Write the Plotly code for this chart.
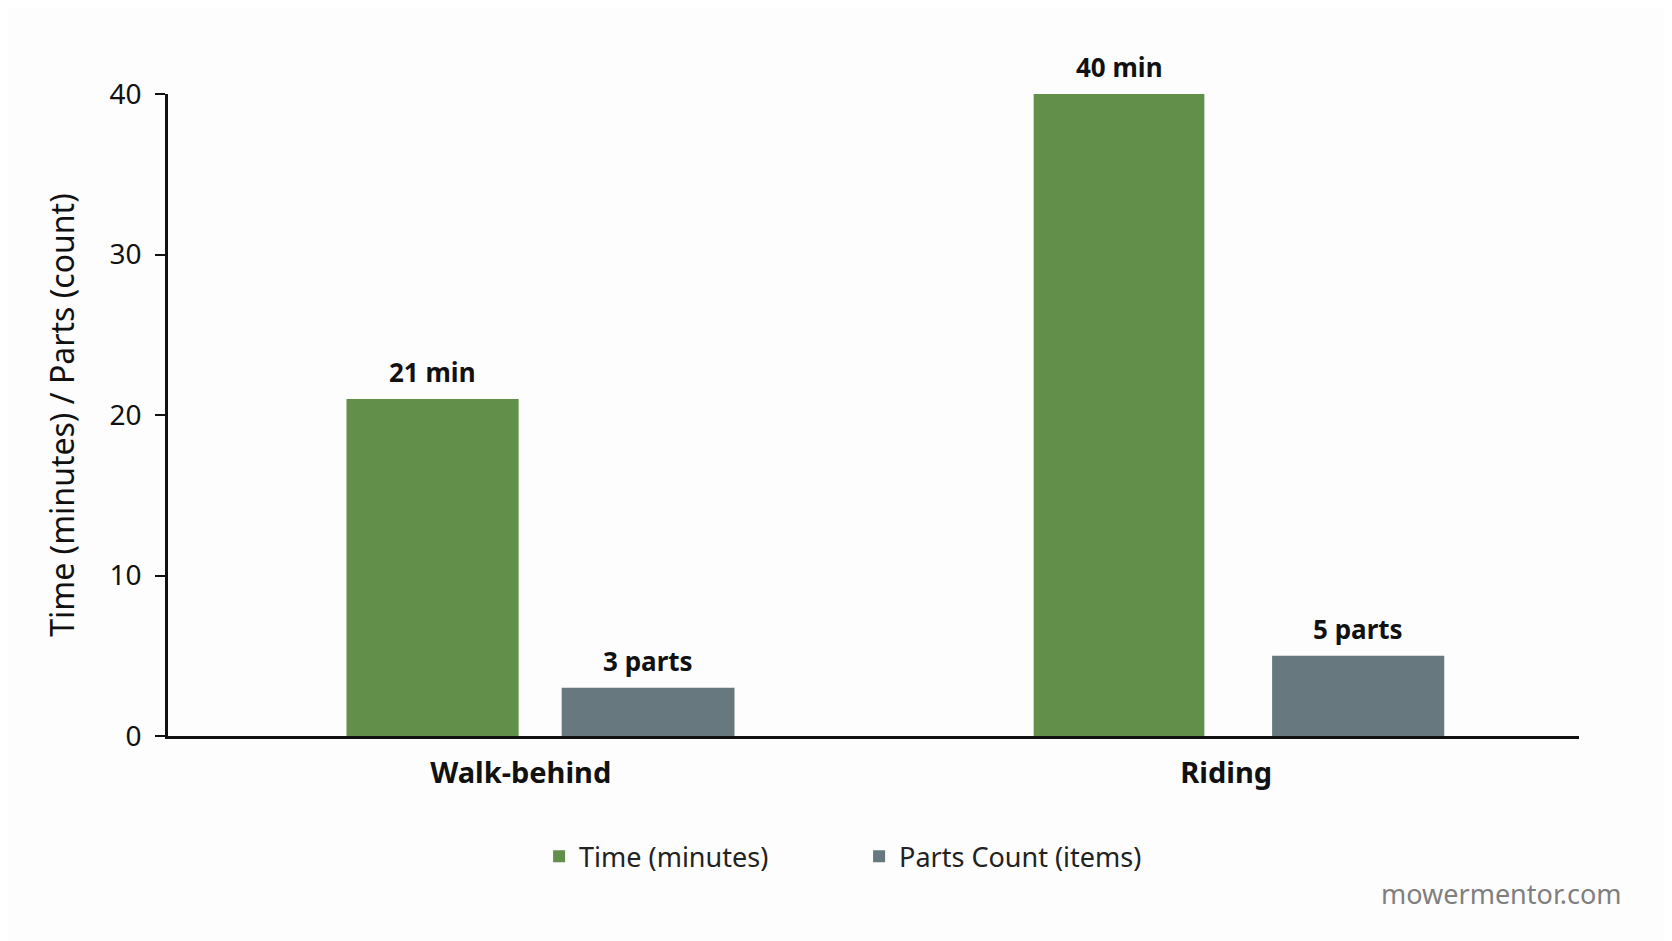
import plotly.graph_objects as go

categories = ['Walk-behind', 'Riding']
time_minutes = [21, 40]
parts_count = [3, 5]

GREEN = '#62904B'
SLATE = '#67787E'
FONT = 'Noto Sans'

# bar placement inside each category slot (the source chart isn't symmetric)
time_width, time_offset = [0.244, 0.242], [-0.247, -0.273]
parts_width, parts_offset = [0.245, 0.244], [0.058, 0.065]

fig = go.Figure()

fig.add_trace(go.Bar(
    name='Time (minutes)',
    x=categories, y=time_minutes,
    marker=dict(color=GREEN, line=dict(width=0)),
    width=time_width, offset=time_offset,
))
fig.add_trace(go.Bar(
    name='Parts Count (items)',
    x=categories, y=parts_count,
    marker=dict(color=SLATE, line=dict(width=0)),
    width=parts_width, offset=parts_offset,
))

# value labels sitting a bit above each bar
labels = []
for i in range(len(categories)):
    labels.append(dict(
        x=i + time_offset[i] + time_width[i] / 2, y=time_minutes[i],
        text=f'{time_minutes[i]} min', yshift=27,
    ))
    labels.append(dict(
        x=i + parts_offset[i] + parts_width[i] / 2, y=parts_count[i],
        text=f'{parts_count[i]} parts', yshift=27,
    ))
for a in labels:
    a.update(xref='x', yref='y', showarrow=False, yanchor='middle',
             font=dict(family=FONT, size=26, color='#111111', weight='bold'))

labels.append(dict(
    text='mowermentor.com', xref='paper', yref='paper',
    x=1.032, y=-0.245, xanchor='right', yanchor='middle', showarrow=False,
    font=dict(family=FONT, size=27, color='#7F7F7F'),
))

fig.update_layout(
    width=1672, height=941,
    margin=dict(l=160, r=101, t=86, b=213),
    paper_bgcolor='#FDFDFD', plot_bgcolor='#FDFDFD',
    font=dict(family=FONT, color='#111111'),
    barmode='group',
    showlegend=True,
    legend=dict(
        orientation='h', x=0.263, xanchor='left', y=-0.188, yanchor='middle',
        font=dict(family=FONT, size=27, color='#222222'),
        entrywidth=275, bgcolor='rgba(0,0,0,0)',
    ),
    annotations=labels,
)

fig.update_xaxes(
    range=[-0.5, 1.5],
    showline=True, linecolor='#111111', linewidth=2.5,
    ticks='', showgrid=False, zeroline=False,
    tickfont=dict(family=FONT, size=29, color='#111111', weight='bold'),
    ticklabelstandoff=9,
)
fig.update_yaxes(
    range=[0, 40], tickvals=[0, 10, 20, 30, 40],
    showline=True, linecolor='#111111', linewidth=2.5,
    ticks='outside', ticklen=10, tickwidth=2, tickcolor='#111111',
    showgrid=False, zeroline=False,
    tickfont=dict(family=FONT, size=28, color='#111111'),
    ticklabelstandoff=8,
    title=dict(text='Time (minutes) / Parts (count)', standoff=26,
               font=dict(family=FONT, size=32, color='#111111')),
)

fig.write_html('out.html')
